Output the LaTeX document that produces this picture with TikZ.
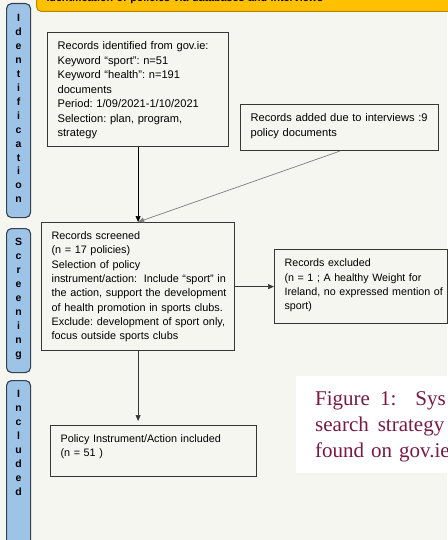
\documentclass[tikz,border=0pt]{standalone}
\usepackage{fontspec}
\setmainfont{Liberation Sans}
\newfontfamily\captionserif{Liberation Serif}
\usetikzlibrary{arrows.meta}
\frenchspacing

\definecolor{pagebg}{RGB}{245,246,240}
\definecolor{stagefill}{RGB}{157,195,230}
\definecolor{stageline}{RGB}{55,65,80}
\definecolor{headfill}{RGB}{255,192,0}
\definecolor{headline}{RGB}{185,135,0}
\definecolor{boxline}{RGB}{55,55,55}
\definecolor{linkgray}{RGB}{125,125,125}
\definecolor{capred}{RGB}{120,25,70}

% lines of a box, kept as typed
\newcommand{\boxlines}[1]{\begin{tabular}[t]{@{}l@{}}#1\end{tabular}}

\begin{document}
\begin{tikzpicture}[x=1pt, y=-1pt,
    rec/.style={draw=boxline, line width=1.2pt, anchor=north west, align=left,
      inner xsep=10pt, inner ysep=0pt, text height=17pt,
      font=\fontsize{11.1}{14.5}\selectfont},
    stage/.style={draw=stageline, fill=stagefill, line width=1.1pt, rounded corners=5pt,
      anchor=north west, align=center, text width=24pt, inner sep=0pt, text height=18pt,
      font=\bfseries\fontsize{10.5}{13.95}\selectfont},
    flow/.style={-{Triangle[length=6pt,width=5pt]}, line width=0.7pt, draw=boxline}]
      \useasboundingbox (0,0) rectangle (447,540);
      \fill[pagebg] (0,0) rectangle (447,540);
      % header bar, cut by the page top
      \node[draw=headline, fill=headfill, line width=1pt, rounded corners=5pt, anchor=south west,
        align=left, text width=420pt, inner xsep=10pt, inner ysep=0pt, text height=42.5pt, text depth=9.5pt,
        font=\bfseries\fontsize{10.7}{12}\selectfont] (head) at (36,12)
        {Identification of policies via databases and interviews};
      % stage bars
      \node[stage, text depth=196pt] (idbar) at (6,3) {I\\d\\e\\n\\t\\i\\f\\i\\c\\a\\t\\i\\o\\n};
      \node[stage, text height=17pt, text depth=127pt] (scbar) at (6,228) {S\\c\\r\\e\\e\\n\\i\\n\\g};
      \node[stage, text height=17pt, text depth=163pt] (incbar) at (6,380) {I\\n\\c\\l\\u\\d\\e\\d};
      % records
      \node[rec, text width=161pt, text depth=97pt] (ident) at (47,32)
        {\boxlines{Records identified from gov.ie:\\Keyword “sport”: n=51\\Keyword “health”: n=191\\documents\\Period: 1/09/2021-1/10/2021\\Selection: plan, program,\\strategy}};
      \node[rec, text width=178pt, text depth=29pt] (added) at (240,104)
        {\boxlines{Records added due to interviews :9\\policy documents}};
      \node[rec, text width=173pt, text depth=111pt, font=\fontsize{10.85}{14.3}\selectfont] (screened) at (41,222)
        {\boxlines{Records screened\\(n = 17 policies)\\Selection of policy\\instrument/action:\hspace{3pt} Include “sport” in\\the action, support the development\\of health promotion in sports clubs.\\Exclude: development of sport only,\\focus outside sports clubs}};
      \node[rec, text width=153pt, text depth=57pt, font=\fontsize{10.7}{14.4}\selectfont] (excluded) at (274,249)
        {\boxlines{Records excluded\\(n = 1 ; A healthy Weight for\\Ireland, no expressed mention of\\sport)}};
      \node[rec, text width=186pt, text depth=34pt, font=\fontsize{10.8}{14}\selectfont] (included) at (50,425)
        {\boxlines{Policy Instrument/Action included\\(n = 51 )}};
      % links
      \draw[flow, draw=black] (ident.south) -- (screened.north);
      \draw[flow, draw=linkgray] (added.south) -- (screened.north);
      \draw[flow] (screened.east) -- (screened.east -| excluded.west);
      \draw[flow, shorten >=4pt] (screened.south) -- (screened.south |- included.north);
      % caption, cut by the page edge
      \fill[white] (296,376) rectangle (470,473);
      \node[anchor=base west, inner sep=0pt, text width=200pt, align=left, text=capred,
        font=\captionserif\fontsize{21}{26}\selectfont] (caption) at (315,405)
        {Figure\hspace{10pt}1:\hspace{19pt}Sys\\search\hspace{9pt}strategy\\found on gov.ie};
    \end{tikzpicture}
\end{document}
